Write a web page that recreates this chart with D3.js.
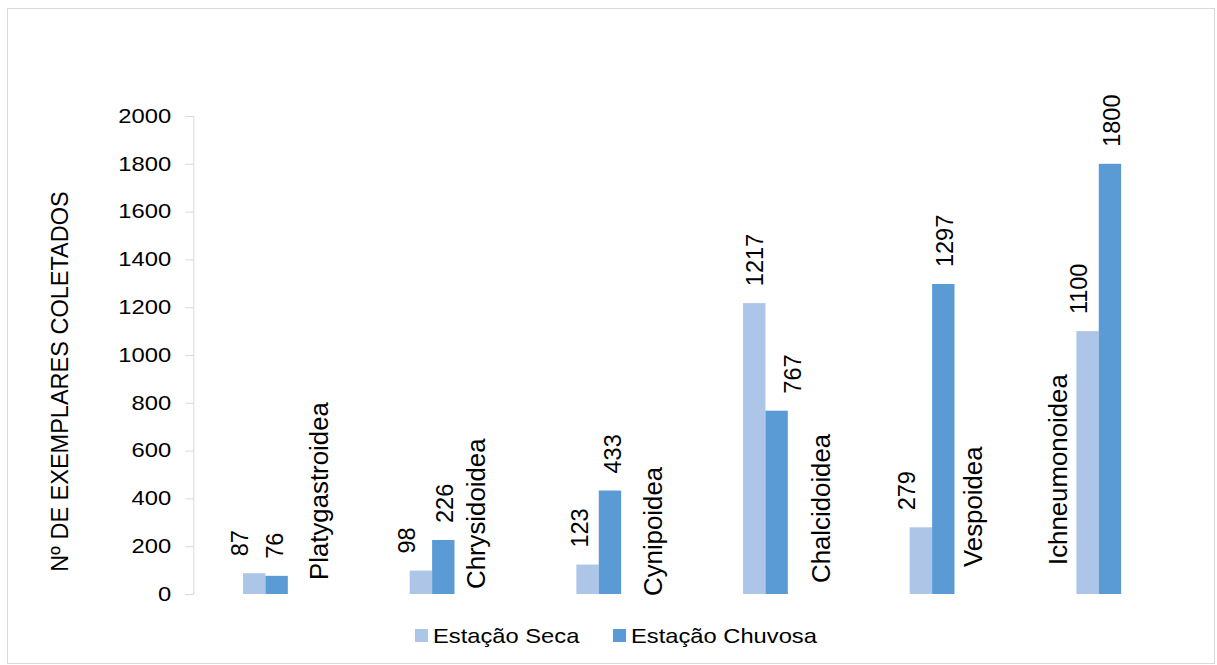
<!DOCTYPE html>
<html>
<head>
<meta charset="utf-8">
<script src="https://cdn.jsdelivr.net/npm/d3@7/dist/d3.min.js"></script>
<style>
  html, body { margin: 0; padding: 0; background: #fff; }
  svg { display: block; font-family: "Liberation Sans", Arial, sans-serif; }
</style>
</head>
<body>
<svg id="chart" width="1217" height="665"></svg>
<script>
// ---- data ----
const categories = ["Platygastroidea", "Chrysidoidea", "Cynipoidea", "Chalcidoidea", "Vespoidea", "Ichneumonoidea"];
const seriesNames = ["Estação Seca", "Estação Chuvosa"];
const seca    = [87, 98, 123, 1217, 279, 1100];
const chuvosa = [76, 226, 433, 767, 1297, 1800];
const yTicks  = [0, 200, 400, 600, 800, 1000, 1200, 1400, 1600, 1800, 2000];
const yTitle  = "Nº DE EXEMPLARES COLETADOS";

// ---- layout (pixels, not data) ----
const colors = ["#adc5e7", "#5b9bd5"];
// value label horizontal nudges (relative to bar centre)
const valueNudge = [
  [-15, -14.5, -8, 0, -14, -8.5],
  [-2.5, 1, 2.5, 15.5, 1.5, 2]
];
// category label: baseline x offset from group start, bottom y
const catLabelDx = [84.5, 74.8, 85.6, 87, 72.3, -9.4];
const catLabelBottom = [580, 589, 596, 583, 567, 565];

const svg = d3.select("#chart");

// frame
svg.append("rect")
  .attr("x", 7.5).attr("y", 8.5)
  .attr("width", 1207).attr("height", 655)
  .attr("fill", "none").attr("stroke", "#d9d9d9").attr("stroke-width", 1);

const plotLeft = 193.3, plotRight = 1193.3, plotTop = 116, plotBottom = 594;

const y = d3.scaleLinear().domain([0, 2000]).range([plotBottom, plotTop]);
const x = d3.scaleBand().domain(categories).range([plotLeft, plotRight])
  .paddingInner(0.597).paddingOuter(0.597 / 2);
const xSub = d3.scaleBand().domain([0, 1, 2]).range([0, x.bandwidth()]);

// y axis
const yAxis = d3.axisLeft(y).tickValues(yTicks).tickSize(8).tickSizeOuter(8).tickFormat(d3.format("d"));
const gy = svg.append("g").attr("transform", `translate(${plotLeft},0)`).call(yAxis);
gy.select(".domain").attr("stroke", "#d9d9d9");
gy.selectAll(".tick line").attr("stroke", "#d9d9d9");
gy.selectAll(".tick text")
  .attr("x", null)
  .attr("transform", "translate(-22,0) scale(1.22,1)")
  .attr("fill", "#000")
  .attr("font-size", "19.5px")
  .attr("font-family", "Liberation Sans, Arial, sans-serif");

// y title
svg.append("text")
  .attr("transform", `translate(68,381.5) rotate(-90)`)
  .attr("text-anchor", "middle")
  .attr("font-size", "23.5px")
  .attr("fill", "#000")
  .text(yTitle);

// bars
const series = [seca, chuvosa];
series.forEach((vals, si) => {
  const g = svg.append("g");
  g.selectAll("rect").data(vals).join("rect")
    .attr("x", (d, i) => x(categories[i]) + xSub(si))
    .attr("width", xSub.bandwidth())
    .attr("y", d => y(d))
    .attr("height", d => y(0) - y(d))
    .attr("fill", colors[si]);
  g.selectAll("text").data(vals).join("text")
    .attr("transform", (d, i) => {
      const cx = x(categories[i]) + xSub(si) + xSub.bandwidth() / 2 + valueNudge[si][i];
      return `translate(${cx},${y(d) - 17}) rotate(-90)`;
    })
    .attr("dy", "0.358em")
    .attr("text-anchor", "start")
    .attr("font-size", "23.5px")
    .attr("fill", "#000")
    .text(d => d);
});

// category labels
svg.append("g").selectAll("text").data(categories).join("text")
  .attr("transform", (d, i) => `translate(${x(d) + catLabelDx[i]},${catLabelBottom[i]}) rotate(-90)`)
  .attr("text-anchor", "start")
  .attr("font-size", "25.8px")
  .attr("fill", "#000")
  .text(d => d);

// legend
const legendPos = [415, 613];
seriesNames.forEach((name, i) => {
  svg.append("rect")
    .attr("x", legendPos[i]).attr("y", 629)
    .attr("width", 13).attr("height", 13)
    .attr("fill", colors[i]);
  svg.append("text")
    .attr("transform", `translate(${legendPos[i] + 18},643.3) scale(1.13,1)`)
    .attr("font-size", "21px")
    .attr("fill", "#000")
    .text(name);
});
</script>
</body>
</html>
